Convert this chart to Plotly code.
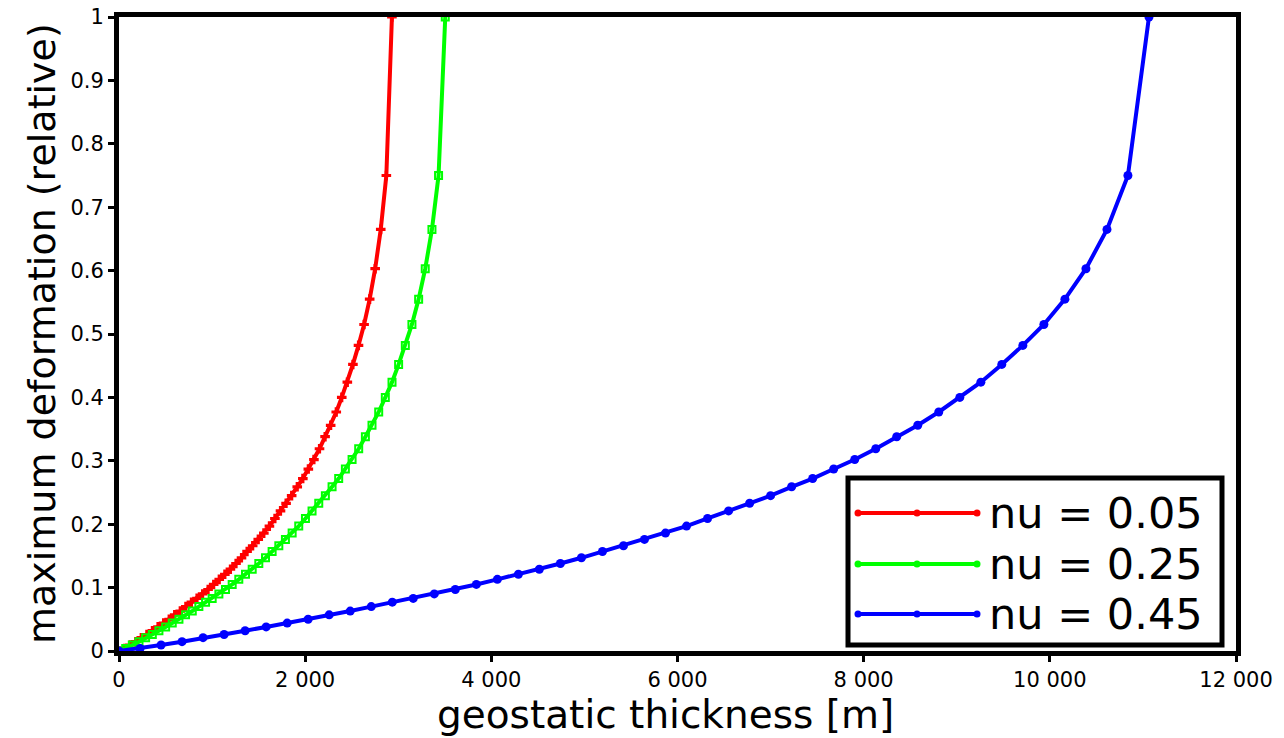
import plotly.graph_objects as go

# Relative maximum deformation sampled along the geostatic thickness,
# one curve per Poisson ratio (same relative profile, different critical thickness).
deformation = [
    0.0, 0.004, 0.0095, 0.0147, 0.021, 0.026, 0.032, 0.038, 0.044, 0.050,
    0.057, 0.063, 0.070, 0.077, 0.083, 0.090, 0.097, 0.105, 0.113, 0.121,
    0.129, 0.138, 0.147, 0.157, 0.166, 0.176, 0.186, 0.197, 0.209, 0.221,
    0.233, 0.245, 0.259, 0.272, 0.287, 0.302, 0.319, 0.338, 0.356, 0.377,
    0.400, 0.424, 0.452, 0.482, 0.515, 0.555, 0.603, 0.665, 0.750, 1.000,
]

thickness_nu005 = [
    0, 60, 120, 180, 239, 299, 359, 419, 479, 539,
    598, 658, 718, 778, 838, 898, 957, 1017, 1077, 1137,
    1197, 1257, 1316, 1376, 1436, 1496, 1556, 1616, 1675, 1735,
    1795, 1855, 1915, 1975, 2034, 2094, 2154, 2214, 2274, 2334,
    2393, 2453, 2513, 2573, 2633, 2693, 2752, 2812, 2872, 2932,
]

thickness_nu025 = [
    0, 72, 143, 215, 286, 358, 429, 501, 572, 644,
    715, 787, 858, 930, 1001, 1073, 1144, 1216, 1287, 1359,
    1431, 1502, 1574, 1645, 1717, 1788, 1860, 1931, 2003, 2074,
    2146, 2217, 2289, 2360, 2432, 2504, 2575, 2647, 2718, 2790,
    2861, 2933, 3004, 3076, 3147, 3219, 3290, 3362, 3433, 3505,
]

thickness_nu045 = [
    0, 226, 452, 677, 903, 1129, 1355, 1581, 1807, 2032,
    2258, 2484, 2710, 2936, 3161, 3387, 3613, 3839, 4065, 4291,
    4516, 4742, 4968, 5194, 5420, 5645, 5871, 6097, 6323, 6549,
    6775, 7000, 7226, 7452, 7678, 7904, 8130, 8355, 8581, 8807,
    9033, 9259, 9484, 9710, 9936, 10162, 10388, 10614, 10839, 11065,
]

series_names = ["nu = 0.05", "nu = 0.25", "nu = 0.45"]
series_x = [thickness_nu005, thickness_nu025, thickness_nu045]
colors = ["#ff0000", "#00ff00", "#0000ff"]
symbols = ["cross", "square-open", "circle"]
marker_sizes = [8, 7, 9]

FONT = "DejaVu Sans"
W, H = 1284, 738
L, R, T, B = 119, 48, 17, 87

fig = go.Figure()

for name, xs, col, sym, ms in zip(series_names, series_x, colors, symbols, marker_sizes):
    fig.add_trace(go.Scatter(
        x=xs, y=deformation, name=name, mode="lines+markers",
        line=dict(color=col, width=4),
        marker=dict(color=col, symbol=sym, size=ms,
                    line=dict(color=col, width=2 if sym == "square-open" else 0)),
        showlegend=False, cliponaxis=False,
    ))

# Hand-drawn legend box with long line samples (three markers each)
pw, ph = W - L - R, H - T - B
box_x0, box_x1, box_y0, box_y1 = 848, 1222, 478, 645


def px_to_paper_x(px):
    return (px - L) / pw


def px_to_paper_y(py):
    return (H - B - py) / ph


fig.update_layout(
    xaxis2=dict(domain=[px_to_paper_x(box_x0), px_to_paper_x(box_x1)],
                range=[box_x0, box_x1], anchor="y2", visible=False, fixedrange=True),
    yaxis2=dict(domain=[px_to_paper_y(box_y1), px_to_paper_y(box_y0)],
                range=[box_y1, box_y0], anchor="x2", visible=False, fixedrange=True),
)

box = dict(type="rect", xref="paper", yref="paper",
           x0=px_to_paper_x(box_x0), x1=px_to_paper_x(box_x1),
           y0=px_to_paper_y(box_y1), y1=px_to_paper_y(box_y0))
# white fill beneath the samples, black frame on top
fig.add_shape(**box, line=dict(width=0), fillcolor="white", layer="below")
fig.add_shape(**box, line=dict(color="black", width=5), fillcolor="rgba(0,0,0,0)", layer="above")

row_y = [513, 564, 614]
for name, col, yy in zip(series_names, colors, row_y):
    fig.add_trace(go.Scatter(
        x=[858, 917, 977], y=[yy, yy, yy], xaxis="x2", yaxis="y2",
        mode="lines+markers", line=dict(color=col, width=4),
        marker=dict(color=col, size=7, symbol="circle"),
        showlegend=False, hoverinfo="skip", cliponaxis=False,
    ))
    fig.add_annotation(x=987, y=yy, xref="x2", yref="y2", text=name,
                       showarrow=False, xanchor="left", yanchor="middle",
                       font=dict(family=FONT, size=43, color="black"))

# Axis titles placed as annotations in pixel-derived paper coordinates
fig.add_annotation(x=px_to_paper_x(665), y=px_to_paper_y(738), xref="paper", yref="paper",
                   text="geostatic thickness [m]", showarrow=False,
                   xanchor="center", yanchor="bottom", borderpad=0,
                   font=dict(family=FONT, size=39, color="black"))
fig.add_annotation(x=px_to_paper_x(42), y=px_to_paper_y(334), xref="paper", yref="paper",
                   text="maximum deformation (relative)", showarrow=False, textangle=-90,
                   xanchor="center", yanchor="middle",
                   font=dict(family=FONT, size=38, color="black"))

fig.update_layout(
    width=W, height=H,
    margin=dict(l=L, r=R, t=T, b=B, pad=0, autoexpand=False),
    paper_bgcolor="white", plot_bgcolor="white",
    separators=". ",
    font=dict(family=FONT, color="black"),
    xaxis=dict(
        range=[0, 12000], dtick=2000, tick0=0, tickformat=",d", exponentformat="none",
        showgrid=False, zeroline=False, automargin=False,
        showline=True, linecolor="black", linewidth=5, mirror=True,
        ticks="outside", ticklen=6, tickwidth=3, tickcolor="black",
        tickfont=dict(family=FONT, size=21),
    ),
    yaxis=dict(
        range=[0, 1], dtick=0.1, tick0=0,
        showgrid=False, zeroline=False, automargin=False,
        showline=True, linecolor="black", linewidth=5, mirror=True,
        ticks="outside", ticklen=6, tickwidth=3, tickcolor="black",
        tickfont=dict(family=FONT, size=21),
    ),
)

fig.write_html("out.html")
